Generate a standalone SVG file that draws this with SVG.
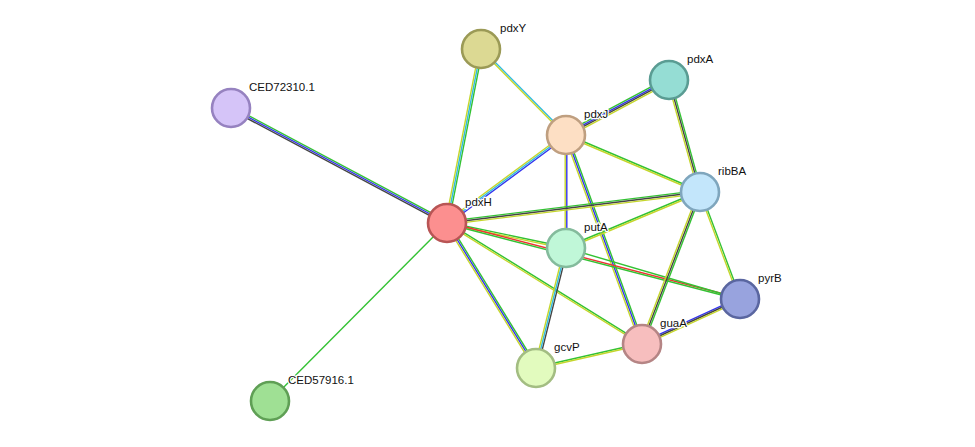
<svg xmlns="http://www.w3.org/2000/svg" width="975" height="447" viewBox="0 0 975 447">
<style>
line{stroke-width:1.4;fill:none}
.g{stroke:#33c233}.y{stroke:#c5d62c}.b{stroke:#3333ee}.k{stroke:#444}.c{stroke:#33bbdd}.r{stroke:#ee3333}
circle{stroke-width:2.6}
text{font-family:"Liberation Sans",Arial,sans-serif;font-size:11.5px;fill:#111;paint-order:stroke;stroke:#fff;stroke-width:2.5px;stroke-linejoin:round}
</style>
<rect width="975" height="447" fill="#fff"/>
<g id="connectors">
<line class="g" x1="231" y1="108" x2="447" y2="223" transform="translate(0.75,-1.41)"/>
<line class="b" x1="231" y1="108" x2="447" y2="223"/>
<line class="k" x1="231" y1="108" x2="447" y2="223" transform="translate(-0.75,1.41)"/>
<line class="g" x1="270" y1="401" x2="447" y2="223"/>
<line class="g" x1="481" y1="49" x2="447" y2="223" transform="translate(1.57,0.31)"/>
<line class="c" x1="481" y1="49" x2="447" y2="223"/>
<line class="y" x1="481" y1="49" x2="447" y2="223" transform="translate(-1.57,-0.31)"/>
<line class="c" x1="481" y1="49" x2="566" y2="135" transform="translate(0.57,-0.57)"/>
<line class="y" x1="481" y1="49" x2="566" y2="135" transform="translate(-0.57,0.57)"/>
<line class="g" x1="566" y1="135" x2="669" y2="80" transform="translate(-1.13,-2.12)"/>
<line class="b" x1="566" y1="135" x2="669" y2="80" transform="translate(-0.38,-0.7)"/>
<line class="k" x1="566" y1="135" x2="669" y2="80" transform="translate(0.38,0.7)"/>
<line class="y" x1="566" y1="135" x2="669" y2="80" transform="translate(1.13,2.12)"/>
<line class="b" x1="566" y1="135" x2="447" y2="223" transform="translate(0.95,1.29)"/>
<line class="c" x1="566" y1="135" x2="447" y2="223"/>
<line class="y" x1="566" y1="135" x2="447" y2="223" transform="translate(-0.95,-1.29)"/>
<line class="g" x1="566" y1="135" x2="700" y2="192" transform="translate(0.32,-0.74)"/>
<line class="y" x1="566" y1="135" x2="700" y2="192" transform="translate(-0.32,0.74)"/>
<line class="b" x1="566" y1="135" x2="566" y2="248" transform="translate(0.8,0)"/>
<line class="y" x1="566" y1="135" x2="566" y2="248" transform="translate(-0.8,0)"/>
<line class="g" x1="566" y1="135" x2="642" y2="344" transform="translate(1.5,-0.55)"/>
<line class="b" x1="566" y1="135" x2="642" y2="344"/>
<line class="y" x1="566" y1="135" x2="642" y2="344" transform="translate(-1.5,0.55)"/>
<line class="g" x1="669" y1="80" x2="700" y2="192" transform="translate(1.54,-0.43)"/>
<line class="k" x1="669" y1="80" x2="700" y2="192"/>
<line class="y" x1="669" y1="80" x2="700" y2="192" transform="translate(-1.54,0.43)"/>
<line class="g" x1="447" y1="223" x2="700" y2="192" transform="translate(-0.19,-1.59)"/>
<line class="k" x1="447" y1="223" x2="700" y2="192"/>
<line class="y" x1="447" y1="223" x2="700" y2="192" transform="translate(0.19,1.59)"/>
<line class="g" x1="447" y1="223" x2="566" y2="248" transform="translate(0.17,-0.8)"/>
<line class="y" x1="447" y1="223" x2="566" y2="248" transform="translate(-0.17,0.8)"/>
<line class="r" x1="447" y1="223" x2="740" y2="299" transform="translate(0.2,-0.78)"/>
<line class="g" x1="447" y1="223" x2="740" y2="299" transform="translate(-0.2,0.78)"/>
<line class="g" x1="447" y1="223" x2="536" y2="368" transform="translate(1.36,-0.84)"/>
<line class="b" x1="447" y1="223" x2="536" y2="368"/>
<line class="y" x1="447" y1="223" x2="536" y2="368" transform="translate(-1.36,0.84)"/>
<line class="g" x1="447" y1="223" x2="642" y2="344" transform="translate(0.42,-0.68)"/>
<line class="y" x1="447" y1="223" x2="642" y2="344" transform="translate(-0.42,0.68)"/>
<line class="g" x1="566" y1="248" x2="700" y2="192" transform="translate(-0.31,-0.74)"/>
<line class="y" x1="566" y1="248" x2="700" y2="192" transform="translate(0.31,0.74)"/>
<line class="k" x1="566" y1="248" x2="536" y2="368" transform="translate(1.55,0.39)"/>
<line class="c" x1="566" y1="248" x2="536" y2="368"/>
<line class="y" x1="566" y1="248" x2="536" y2="368" transform="translate(-1.55,-0.39)"/>
<line class="g" x1="566" y1="248" x2="740" y2="299"/>
<line class="g" x1="700" y1="192" x2="642" y2="344" transform="translate(1.5,0.57)"/>
<line class="k" x1="700" y1="192" x2="642" y2="344"/>
<line class="y" x1="700" y1="192" x2="642" y2="344" transform="translate(-1.5,-0.57)"/>
<line class="g" x1="700" y1="192" x2="740" y2="299" transform="translate(0.75,-0.28)"/>
<line class="y" x1="700" y1="192" x2="740" y2="299" transform="translate(-0.75,0.28)"/>
<line class="b" x1="642" y1="344" x2="740" y2="299" transform="translate(-0.67,-1.45)"/>
<line class="k" x1="642" y1="344" x2="740" y2="299"/>
<line class="y" x1="642" y1="344" x2="740" y2="299" transform="translate(0.67,1.45)"/>
<line class="g" x1="536" y1="368" x2="642" y2="344" transform="translate(-0.18,-0.78)"/>
<line class="y" x1="536" y1="368" x2="642" y2="344" transform="translate(0.18,0.78)"/>
</g>
<g id="pdxY"><circle cx="481" cy="49" r="19" fill="#dcd993" stroke="#9b9a56"/><text x="500" y="32">pdxY</text></g>
<g id="pdxA"><circle cx="669" cy="80" r="19" fill="#95ddd4" stroke="#5a9c93"/><text x="687" y="63">pdxA</text></g>
<g id="CED72310.1"><circle cx="231" cy="108" r="19" fill="#d5c4f8" stroke="#9682c0"/><text x="249" y="91">CED72310.1</text></g>
<g id="pdxJ"><circle cx="566" cy="135" r="19" fill="#fddfc4" stroke="#bf9f80"/><text x="584" y="118">pdxJ</text></g>
<g id="ribBA"><circle cx="700" cy="192" r="19" fill="#c3e6fb" stroke="#7fa6bd"/><text x="718" y="175">ribBA</text></g>
<g id="pdxH"><circle cx="447" cy="223" r="19" fill="#fc8f8f" stroke="#b85555"/><text x="465" y="206">pdxH</text></g>
<g id="putA"><circle cx="566" cy="248" r="19" fill="#c0f7d8" stroke="#84bb9c"/><text x="584" y="231">putA</text></g>
<g id="pyrB"><circle cx="740" cy="299" r="19" fill="#98a3de" stroke="#5a66a0"/><text x="758" y="282">pyrB</text></g>
<g id="guaA"><circle cx="642" cy="344" r="19" fill="#f7bebe" stroke="#b58585"/><text x="660" y="327">guaA</text></g>
<g id="gcvP"><circle cx="536" cy="368" r="19" fill="#e2fbbe" stroke="#a3bd82"/><text x="554" y="351">gcvP</text></g>
<g id="CED57916.1"><circle cx="270" cy="401" r="19" fill="#9fe094" stroke="#5f9f55"/><text x="288" y="384">CED57916.1</text></g>
</svg>
